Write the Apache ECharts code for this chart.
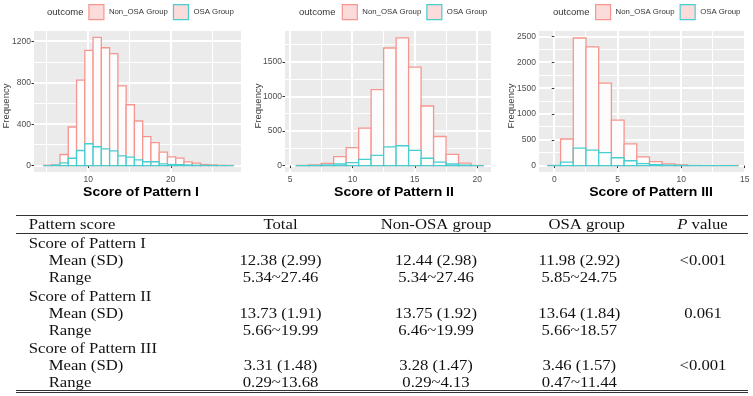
<!DOCTYPE html>
<html><head><meta charset="utf-8">
<script src="https://cdn.jsdelivr.net/npm/echarts@6/dist/echarts.min.js"></script>
<style>html,body{margin:0;padding:0;background:#fff}#c{width:753px;height:396px}</style>
</head><body><div id="c"></div>
<script>
// ---------- Histogram data (bin left edges, bin width 1) ----------
const p1BinLeft = [4.6,5.6,6.6,7.6,8.6,9.6,10.6,11.6,12.6,13.6,14.6,15.6,16.6,17.6,18.6,19.6,20.6,21.6,22.6,23.6,24.6,25.6,26.6];
const p1NonOSA  = [3,5,107,373,827,1113,1239,1139,1083,770,588,431,280,221,130,85,72,36,23,10,6,2,1];
const p1OSA     = [0,5,26,71,146,211,182,162,143,94,82,55,37,37,16,10,9,6,3,2,1,0,0];
const p1XTicks  = [10,20];
const p1YTicks  = [0,400,800,1200];

const p2BinLeft = [5.5,6.5,7.5,8.5,9.5,10.5,11.5,12.5,13.5,14.5,15.5,16.5,17.5,18.5,19.5];
const p2NonOSA  = [2,10,34,131,262,544,1100,1704,1850,1427,864,422,162,37,2];
const p2OSA     = [1,3,10,24,44,92,148,272,288,220,107,52,24,8,0];
const p2XTicks  = [5,10,15,20];
const p2YTicks  = [0,500,1000,1500];

const p3BinLeft = [-0.5,0.5,1.5,2.5,3.5,4.5,5.5,6.5,7.5,8.5,9.5,10.5,11.5,12.5,13.5];
const p3NonOSA  = [2,516,2474,2302,1600,880,422,168,78,32,14,0,0,0,1];
const p3OSA     = [1,68,338,299,250,152,94,40,19,8,3,1,0,0,0];
const p3XTicks  = [0,5,10,15];
const p3YTicks  = [0,500,1000,1500,2000,2500];

const binWidth = 1;
const groupNames = ['Non_OSA Group','OSA Group'];
const xTitles = ['Score of Pattern I','Score of Pattern II','Score of Pattern III'];

// ---------- Table data ----------
const tableHeader = ['Pattern score','Total','Non-OSA group','OSA group','P value'];
const rowLabels = ['Score of Pattern I','Mean (SD)','Range','Score of Pattern II','Mean (SD)','Range','Score of Pattern III','Mean (SD)','Range'];
const rowIndent = [0,1,1,0,1,1,0,1,1];
const totalCol  = ['','12.38 (2.99)','5.34~27.46','','13.73 (1.91)','5.66~19.99','','3.31 (1.48)','0.29~13.68'];
const nonOsaCol = ['','12.44 (2.98)','5.34~27.46','','13.75 (1.92)','6.46~19.99','','3.28 (1.47)','0.29~4.13'];
const osaCol    = ['','11.98 (2.92)','5.85~24.75','','13.64 (1.84)','5.66~18.57','','3.46 (1.57)','0.47~11.44'];
const pCol      = ['','<0.001','','','0.061','','','<0.001',''];

// ---------- Layout ----------
const RED = '#F79690', CYAN = '#4ACDD1', KEYFILL = '#FCDCDA';
const panels = [
  {left:34,  width:207, xMin:3.45, xMax:28.5, yMin:-62, yMax:1301, bins:p1BinLeft, non:p1NonOSA, osa:p1OSA, xt:p1XTicks, yt:p1YTicks, titleX:141, freqX:6.5,  legLeft:88.3, outX:47},
  {left:285, width:206, xMin:4.6,  xMax:21.1, yMin:-92, yMax:1950, bins:p2BinLeft, non:p2NonOSA, osa:p2OSA, xt:p2XTicks, yt:p2YTicks, titleX:394, freqX:258, legLeft:341.7, outX:299},
  {left:539, width:207, xMin:-1.2, xMax:15.1, yMin:-124,yMax:2610, bins:p3BinLeft, non:p3NonOSA, osa:p3OSA, xt:p3XTicks, yt:p3YTicks, titleX:651, freqX:511, legLeft:595, outX:553}
];
const gridTop = 31, gridH = 141;

function minors(ticks, min, max) {
  const step = ticks[1] - ticks[0];
  const out = [];
  for (let v = ticks[0] - step / 2; v <= max; v += step) if (v >= min) out.push(v);
  return out;
}

function makeRender(color) {
  return function (params, api) {
    const x0 = api.value(0), x1 = api.value(1), h = api.value(2);
    const p0 = api.coord([x0, 0]);
    const p1 = api.coord([x1, h]);
    return {
      type: 'rect',
      shape: {x: p0[0], y: p1[1], width: p1[0] - p0[0], height: p0[1] - p1[1]},
      style: {fill: 'rgba(253,253,253,0.92)', stroke: color, lineWidth: 1.3}
    };
  };
}

const grid = [], xAxis = [], yAxis = [], series = [], legend = [], graphic = [];
const lab = {color:'#4d4d4d', fontSize:8.5, fontFamily:'Liberation Sans', formatter: v => String(v)};
panels.forEach((p, i) => {
  grid.push({left:p.left, top:gridTop, width:p.width, height:gridH, show:false});
  xAxis.push({type:'value', gridIndex:i, min:p.xMin, max:p.xMax,
    axisLine:{show:false}, splitLine:{show:false},
    axisTick:{show:true, length:2.5, lineStyle:{color:'#333', width:1}, customValues:p.xt},
    axisLabel:Object.assign({customValues:p.xt, margin:3}, lab)});
  yAxis.push({type:'value', gridIndex:i, min:p.yMin, max:p.yMax,
    axisLine:{show:false}, splitLine:{show:false},
    axisTick:{show:true, length:2.5, lineStyle:{color:'#333', width:1}, customValues:p.yt},
    axisLabel:Object.assign({customValues:p.yt, margin:3}, lab)});
  const mk = (vals) => p.bins.map((b, j) => [b, b + binWidth, vals[j]]);
  series.push({type:'custom', name:groupNames[0], xAxisIndex:i, yAxisIndex:i, z:3,
    renderItem:makeRender(RED), encode:{x:[0,1], y:2}, data:mk(p.non)});
  series.push({type:'custom', name:groupNames[1], xAxisIndex:i, yAxisIndex:i, z:4,
    renderItem:makeRender(CYAN), encode:{x:[0,1], y:2}, data:mk(p.osa)});
  legend.push({left:p.legLeft, top:4, itemWidth:15, itemHeight:15, itemGap:5, padding:0, selectedMode:false,
    textStyle:{fontSize:7.8, color:'#333', fontFamily:'Liberation Sans'},
    data:[{name:groupNames[0], icon:'rect', itemStyle:{color:KEYFILL, borderColor:RED, borderWidth:1.2}},
          {name:groupNames[1], icon:'rect', itemStyle:{color:KEYFILL, borderColor:CYAN, borderWidth:1.2}}]});
  graphic.push({type:'text', x:p.outX, y:12.5, silent:true,
    style:{text:'outcome', fontSize:9.5, fontFamily:'Liberation Sans', fill:'#333', align:'left', verticalAlign:'middle'}});
  graphic.push({type:'text', x:p.freqX, y:106, rotation:Math.PI/2, silent:true,
    style:{text:'Frequency', fontSize:9.5, fontFamily:'Liberation Sans', fill:'#3d3d3d', align:'center', verticalAlign:'middle'}});
  graphic.push({type:'text', x:p.titleX, y:192.5, scaleX:1.12, silent:true,
    style:{text:xTitles[i], fontSize:12.5, fontWeight:'bold', fontFamily:'Liberation Sans', fill:'#000', align:'center', verticalAlign:'middle'}});
});

// ---------- Table ----------
const TF = {fontSize:14.5, fontFamily:'Liberation Serif', fill:'#111', verticalAlign:'middle'};
const TS = 1.15;
function tText(txt, x, y, align) {
  graphic.push({type:'text', x:x, y:y, scaleX:TS, silent:true,
    style:Object.assign({text:txt, align:align}, TF)});
}
[215.5, 233.5, 390.5, 392.5].forEach(y => graphic.push({type:'line', silent:true,
  shape:{x1:16, y1:y, x2:748, y2:y}, style:{stroke:'#333', lineWidth:1}}));
const headY = 225;
tText(tableHeader[0], 28.7, headY, 'left');
tText(tableHeader[1], 280.5, headY, 'center');
tText(tableHeader[2], 436, headY, 'center');
tText(tableHeader[3], 586.7, headY, 'center');
graphic.push({type:'text', x:702.5, y:headY, scaleX:TS, silent:true,
  style:Object.assign({text:'{i|P} value', align:'center',
    rich:{i:{fontStyle:'italic', fontSize:14.5, fontFamily:'Liberation Serif', fill:'#111'}}}, TF)});
const rowY = [244, 261, 278.3, 296.7, 314.3, 331, 348.7, 365.7, 382.7];
rowLabels.forEach((t, r) => {
  const y = rowY[r];
  tText(t, rowIndent[r] ? 48.7 : 28.7, y, 'left');
  if (totalCol[r]) tText(totalCol[r], 280.5, y, 'center');
  if (nonOsaCol[r]) tText(nonOsaCol[r], 436, y, 'center');
  if (osaCol[r]) tText(osaCol[r], 579.3, y, 'center');
  if (pCol[r]) tText(pCol[r], 703, y, 'center');
});

const chart = echarts.init(document.getElementById('c'), null, {renderer:'canvas'});
chart.setOption({animation:false, backgroundColor:'#fff', grid, xAxis, yAxis, series, legend, graphic});

// ---------- Panel backgrounds and grid lines, positioned through the axes' scales ----------
const gridEls = [];
panels.forEach((p, i) => {
  const px = (v) => chart.convertToPixel({gridIndex:i}, v);
  const tl = px([p.xMin, p.yMax]), br = px([p.xMax, p.yMin]);
  gridEls.push({type:'rect', silent:true, shape:{x:tl[0], y:tl[1], width:br[0]-tl[0], height:br[1]-tl[1]}, style:{fill:'#EBEBEB'}});
  // crisp: major lines 2px wide on integer pixel boundaries, minor 1px on pixel centres
  const snap = (c, major) => major ? Math.round(c) : Math.floor(c) + 0.5;
  const vline = (v, major) => { const x = snap(px([v, p.yMin])[0], major);
    gridEls.push({type:'line', silent:true, shape:{x1:x, y1:tl[1], x2:x, y2:br[1]}, style:{stroke:'#ffffff', lineWidth:major ? 2 : 1}}); };
  const hline = (v, major) => { const y = snap(px([p.xMin, v])[1], major);
    gridEls.push({type:'line', silent:true, shape:{x1:tl[0], y1:y, x2:br[0], y2:y}, style:{stroke:'#ffffff', lineWidth:major ? 2 : 1}}); };
  minors(p.xt, p.xMin, p.xMax).forEach(v => vline(v, false));
  minors(p.yt, p.yMin, p.yMax).forEach(v => hline(v, false));
  p.xt.forEach(v => vline(v, true));
  p.yt.forEach(v => hline(v, true));
});
chart.setOption({graphic: gridEls.concat(graphic)}, {replaceMerge:['graphic']});
</script>
</body></html>
